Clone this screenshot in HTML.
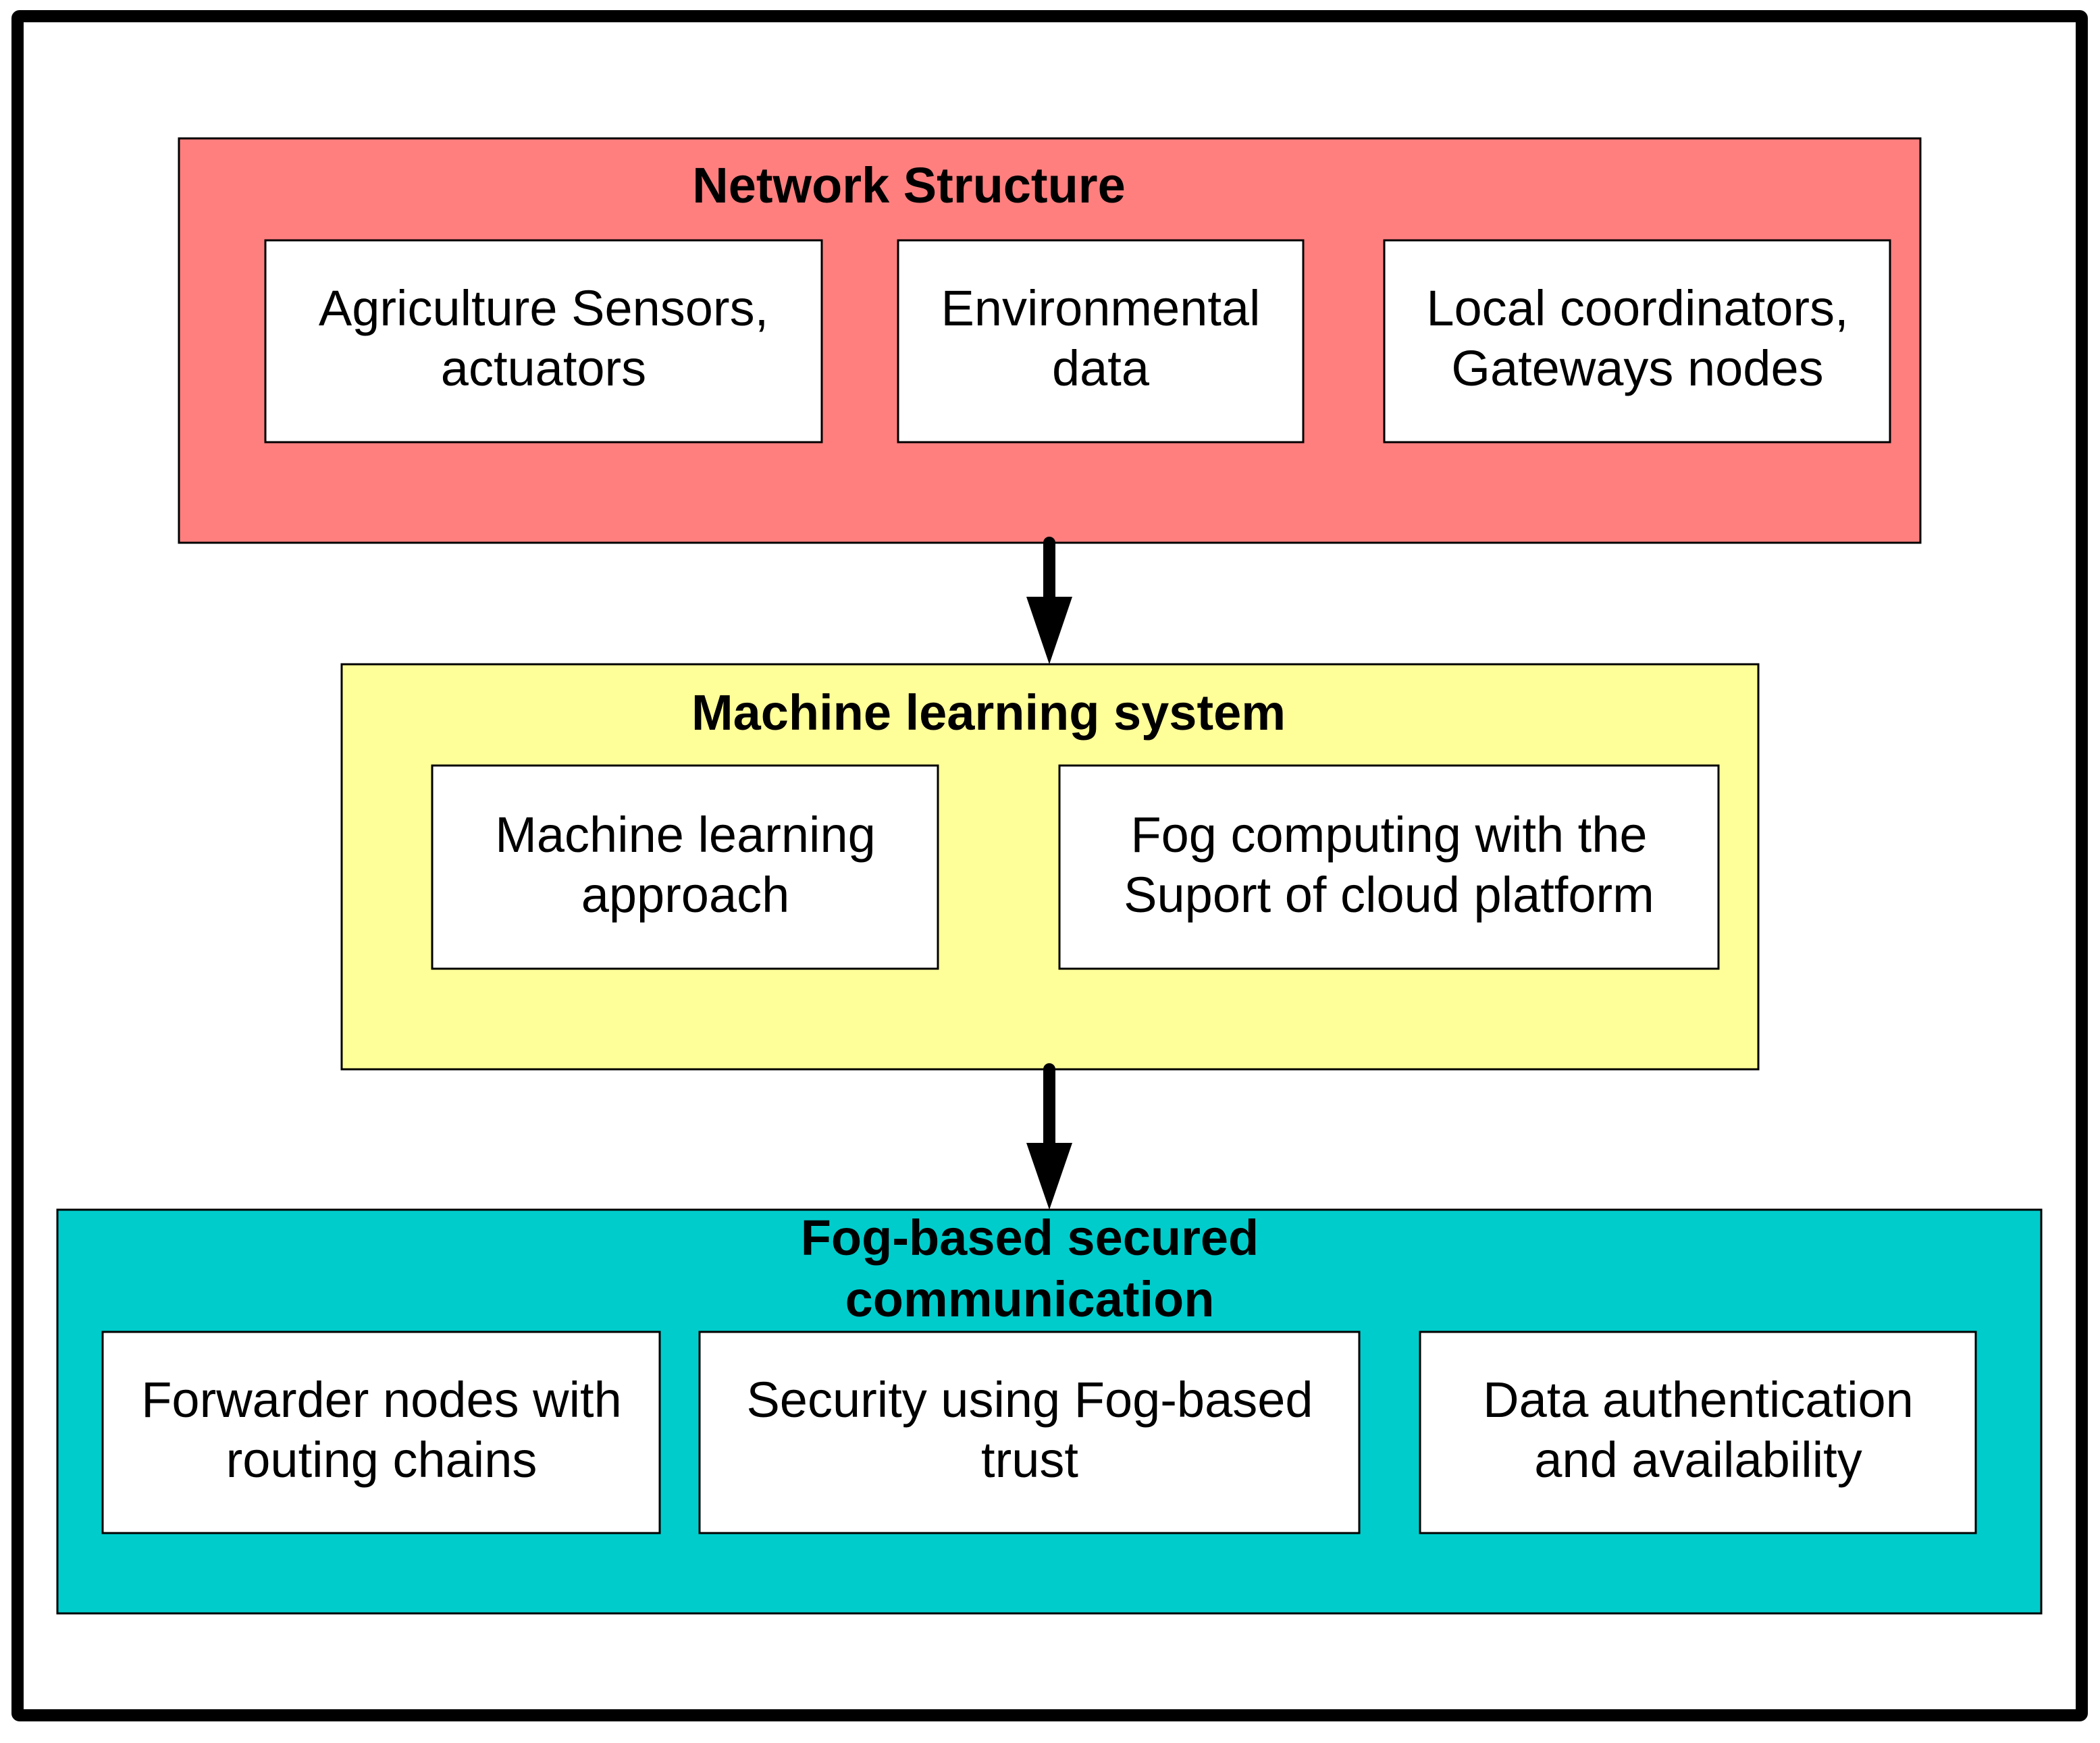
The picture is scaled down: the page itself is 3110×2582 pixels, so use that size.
<!DOCTYPE html>
<html><head><meta charset="utf-8"><style>
html,body{margin:0;padding:0;background:#fff}
svg{display:block}
text{font-family:"Liberation Sans",Arial,sans-serif;font-size:74px;fill:#000}
.b{font-weight:bold}
</style></head><body>
<svg width="3110" height="2582" viewBox="0 0 3110 2582" xmlns="http://www.w3.org/2000/svg">
<rect x="26" y="24" width="3057" height="2517" fill="#fff" stroke="#000" stroke-width="18" rx="3"/>

<rect x="265" y="205" width="2579" height="599" fill="#ff7f7f" stroke="#000" stroke-width="3"/>
<text class="b" x="1346" y="300" text-anchor="middle">Network Structure</text>
<rect x="393" y="356" width="824" height="299" fill="#fff" stroke="#000" stroke-width="3"/>
<rect x="1330" y="356" width="600" height="299" fill="#fff" stroke="#000" stroke-width="3"/>
<rect x="2050" y="356" width="749" height="299" fill="#fff" stroke="#000" stroke-width="3"/>
<text x="805" y="482" text-anchor="middle">Agriculture Sensors,</text>
<text x="805" y="571" text-anchor="middle">actuators</text>
<text x="1630" y="482" text-anchor="middle">Environmental</text>
<text x="1630" y="571" text-anchor="middle">data</text>
<text x="2425" y="482" text-anchor="middle">Local coordinators,</text>
<text x="2425" y="571" text-anchor="middle">Gateways nodes</text>

<line x1="1554" y1="804" x2="1554" y2="890" stroke="#000" stroke-width="18" stroke-linecap="round"/>
<polygon points="1520,884 1588,884 1554,984" fill="#000"/>

<rect x="506" y="984" width="2098" height="600" fill="#ffff99" stroke="#000" stroke-width="3"/>
<text class="b" x="1464" y="1081" text-anchor="middle">Machine learning system</text>
<rect x="640" y="1134" width="749" height="301" fill="#fff" stroke="#000" stroke-width="3"/>
<rect x="1569" y="1134" width="976" height="301" fill="#fff" stroke="#000" stroke-width="3"/>
<text x="1015" y="1262" text-anchor="middle">Machine learning</text>
<text x="1015" y="1351" text-anchor="middle">approach</text>
<text x="2057" y="1262" text-anchor="middle">Fog computing with the</text>
<text x="2057" y="1351" text-anchor="middle">Suport of cloud platform</text>

<line x1="1554" y1="1584" x2="1554" y2="1700" stroke="#000" stroke-width="18" stroke-linecap="round"/>
<polygon points="1520,1693 1588,1693 1554,1792" fill="#000"/>

<rect x="85" y="1792" width="2938" height="598" fill="#00cccc" stroke="#000" stroke-width="3"/>
<text class="b" x="1525" y="1859" text-anchor="middle">Fog-based secured</text>
<text class="b" x="1525" y="1950" text-anchor="middle">communication</text>
<rect x="152" y="1973" width="825" height="298" fill="#fff" stroke="#000" stroke-width="3"/>
<rect x="1036" y="1973" width="977" height="298" fill="#fff" stroke="#000" stroke-width="3"/>
<rect x="2103" y="1973" width="823" height="298" fill="#fff" stroke="#000" stroke-width="3"/>
<text x="565" y="2099" text-anchor="middle">Forwarder nodes with</text>
<text x="565" y="2188" text-anchor="middle">routing chains</text>
<text x="1525" y="2099" text-anchor="middle">Security using Fog-based</text>
<text x="1525" y="2188" text-anchor="middle">trust</text>
<text x="2515" y="2099" text-anchor="middle">Data authentication</text>
<text x="2515" y="2188" text-anchor="middle">and availability</text>
</svg>
</body></html>
